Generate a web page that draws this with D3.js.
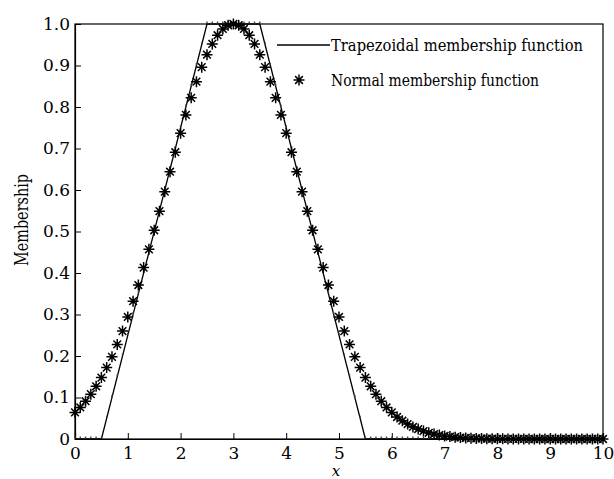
<!DOCTYPE html>
<html><head><meta charset="utf-8">
<script src="https://cdn.jsdelivr.net/npm/d3@7"></script>
<style>body{margin:0;background:#fff} svg text{font-family:"DejaVu Serif","Liberation Serif",serif;}</style>
</head><body>
<svg id="c" width="614" height="479"></svg>
<script>
// Data
const xs = d3.range(101).map(i => +(i * 0.1).toFixed(1));
const trapezoidX = [0, 0.5, 2.5, 3.5, 5.5, 10];
const trapezoidY = [0, 0, 1, 1, 0, 0];
const normalY = [
0.064,0.076,0.091,0.108,0.127,0.148,0.172,0.198,0.228,0.260,
0.294,0.332,0.371,0.413,0.457,0.503,0.549,0.596,0.644,0.691,
0.737,0.781,0.822,0.861,0.896,0.926,0.952,0.973,0.988,0.997,
1.000,0.997,0.988,0.973,0.952,0.926,0.896,0.861,0.822,0.781,
0.737,0.691,0.644,0.596,0.549,0.503,0.457,0.413,0.371,0.332,
0.294,0.260,0.228,0.198,0.172,0.148,0.127,0.108,0.091,0.076,
0.064,0.053,0.044,0.036,0.029,0.024,0.019,0.015,0.012,0.0095,
0.0075,0.0059,0.0045,0.0035,0.0027,0.0020,0.0015,0.0012,0.0009,0.0006,
0.0005,0.0004,0.0003,0.0002,0.0001,0.0001,0,0,0,0,
0,0,0,0,0,0,0,0,0,0,0];
const xTicks = [0,1,2,3,4,5,6,7,8,9,10];
const yTicks = [0,0.1,0.2,0.3,0.4,0.5,0.6,0.7,0.8,0.9,1.0];
const yTickLabels = ["0","0.1","0.2","0.3","0.4","0.5","0.6","0.7","0.8","0.9","1.0"];
const legendLabels = ["Trapezoidal membership function","Normal membership function"];

const svg = d3.select("#c");
const L = 75, R = 603, T = 24, B = 439;
const x = d3.scaleLinear().domain([0,10]).range([L,R]);
const y = d3.scaleLinear().domain([0,1]).range([B,T]);

svg.append("rect").attr("x",L).attr("y",T).attr("width",R-L).attr("height",B-T)
  .attr("fill","none").attr("stroke","#000").attr("stroke-width",1.2);

const xa = svg.append("g").attr("transform",`translate(0,${B})`)
  .call(d3.axisBottom(x).tickValues(xTicks).tickSize(-6).tickPadding(8).tickFormat(d3.format("d")));
const ya = svg.append("g").attr("transform",`translate(${L},0)`)
  .call(d3.axisLeft(y).tickValues(yTicks).tickSize(-6).tickPadding(5).tickFormat((d,i)=>yTickLabels[i]));
[xa,ya].forEach(g=>{
  g.attr("font-family",null);
  g.select(".domain").attr("stroke","#000").attr("stroke-width",1.2);
  g.selectAll("line").attr("stroke","#000").attr("stroke-width",1);
  g.selectAll("text").attr("font-size",17).attr("fill","#000");
});

const trapY = xv => {
  for (let i=0;i<trapezoidX.length-1;i++){
    if (xv>=trapezoidX[i] && xv<=trapezoidX[i+1]) {
      const t=(xv-trapezoidX[i])/(trapezoidX[i+1]-trapezoidX[i]);
      return trapezoidY[i]+t*(trapezoidY[i+1]-trapezoidY[i]);
    }
  }
  return 0;
};
svg.append("path").datum(trapezoidX.map((v,i)=>[v,trapezoidY[i]]))
  .attr("d", d3.line().x(d=>x(d[0])).y(d=>y(d[1])))
  .attr("fill","none").attr("stroke","#000").attr("stroke-width",1.3);
svg.append("g").selectAll("rect").data(xs).join("rect")
  .attr("x",d=>x(d)-0.7).attr("y",d=>y(trapY(d))-2.5).attr("width",1.4).attr("height",2)
  .attr("fill","#444");

const starPath = (s) => {
  const a = s*0.7;
  return `M${-s},0L${s},0M0,${-s}L0,${s}M${-a},${-a}L${a},${a}M${-a},${a}L${a},${-a}`;
};
svg.append("g").selectAll("path").data(xs).join("path")
  .attr("transform",(d,i)=>`translate(${x(d)},${y(normalY[i])})`)
  .attr("d", starPath(5.5)).attr("stroke","#000").attr("stroke-width",1.5).attr("fill","none");

svg.append("line").attr("x1",277).attr("x2",330).attr("y1",45).attr("y2",45)
  .attr("stroke","#000").attr("stroke-width",1.3);
svg.append("path").attr("transform","translate(299,80)").attr("d",starPath(5.5))
  .attr("stroke","#000").attr("stroke-width",1.5);
svg.selectAll("text.leg").data(legendLabels).join("text").attr("class","leg")
  .attr("x",331).attr("y",(d,i)=>i?86:51).text(d=>d)
  .attr("font-size",16).attr("fill","#000")
  .attr("textLength",(d,i)=>i?208:252).attr("lengthAdjust","spacingAndGlyphs");

svg.append("text").attr("transform","translate(28,220) rotate(-90)").attr("text-anchor","middle")
  .attr("font-size",19).attr("textLength",92).attr("lengthAdjust","spacingAndGlyphs").text("Membership");
svg.append("text").attr("x",336).attr("y",476).attr("text-anchor","middle")
  .attr("font-style","italic").attr("font-size",15).text("x");
</script>
</body></html>
